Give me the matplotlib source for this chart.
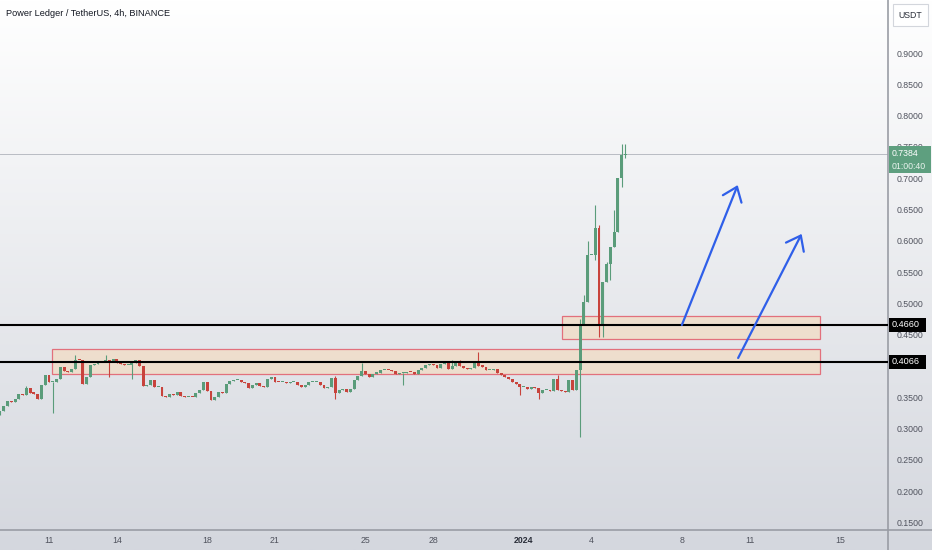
import numpy as np
import matplotlib
matplotlib.use("Agg")
import matplotlib.pyplot as plt
from matplotlib.patches import Rectangle, FancyArrowPatch
from matplotlib.colors import LinearSegmentedColormap
from matplotlib.lines import Line2D
import matplotlib.transforms as mtransforms

# ---------------- data ----------------
TITLE = "Power Ledger / TetherUS, 4h, BINANCE"
first_open = 0.322
closes = [
    0.328, 0.336, 0.344, 0.343, 0.347, 0.355, 0.354, 0.365, 0.357, 0.356,
    0.347, 0.370, 0.386, 0.374, 0.375, 0.379, 0.398, 0.392, 0.390, 0.396,
    0.410, 0.409, 0.371, 0.382, 0.402, 0.403, 0.406, 0.406, 0.410, 0.407,
    0.411, 0.405, 0.403, 0.401, 0.402, 0.404, 0.409, 0.400, 0.368, 0.370,
    0.378, 0.366, 0.367, 0.352, 0.351, 0.355, 0.354, 0.358, 0.352, 0.350,
    0.351, 0.350, 0.357, 0.362, 0.375, 0.360, 0.346, 0.350, 0.358, 0.357,
    0.372, 0.376, 0.377, 0.378, 0.374, 0.373, 0.365, 0.369, 0.373, 0.368,
    0.367, 0.380, 0.382, 0.375, 0.374, 0.375, 0.373, 0.374, 0.375, 0.370,
    0.366, 0.370, 0.374, 0.374, 0.375, 0.370, 0.365, 0.367, 0.381, 0.357,
    0.362, 0.364, 0.358, 0.364, 0.378, 0.384, 0.392, 0.388, 0.383, 0.388,
    0.389, 0.393, 0.394, 0.393, 0.392, 0.387, 0.389, 0.389, 0.391, 0.390,
    0.388, 0.394, 0.397, 0.401, 0.403, 0.402, 0.397, 0.403, 0.405, 0.395,
    0.400, 0.405, 0.400, 0.397, 0.395, 0.397, 0.406, 0.400, 0.399, 0.393,
    0.394, 0.396, 0.389, 0.386, 0.383, 0.380, 0.375, 0.372, 0.366, 0.366,
    0.364, 0.366, 0.365, 0.357, 0.361, 0.362, 0.360, 0.380, 0.362, 0.360,
    0.358, 0.378, 0.362, 0.393, 0.465, 0.502, 0.577, 0.578, 0.620, 0.466,
    0.534, 0.563, 0.590, 0.614, 0.700, 0.737, 0.7384,
]
wick_high = {7: 0.368, 20: 0.418, 28: 0.418, 89: 0.384, 96: 0.405, 120: 0.410,
             122: 0.410, 127: 0.422, 148: 0.385, 154: 0.475, 155: 0.513,
             156: 0.600, 158: 0.657, 159: 0.625, 161: 0.566, 163: 0.650,
             165: 0.755, 166: 0.755}
wick_low = {14: 0.325, 29: 0.382, 35: 0.380, 89: 0.348, 107: 0.370, 138: 0.353,
            143: 0.347, 154: 0.287, 158: 0.570, 159: 0.446, 160: 0.446,
            162: 0.537, 165: 0.686, 166: 0.732}
start_day = -2.1667          # Dec 8 20:00, days relative to Dec 11 00:00
candle_days = 1.0 / 6.0      # 4h candles

time_tick_days = [0, 3, 7, 10, 14, 17, 21, 24, 28, 31, 35]
time_tick_labels = ["11", "14", "18", "21", "25", "28", "2024", "4", "8", "11", "15"]
price_ticks = [0.15, 0.20, 0.25, 0.30, 0.35, 0.40, 0.45, 0.50, 0.55, 0.60,
               0.65, 0.70, 0.75, 0.80, 0.85, 0.90]
levels = [0.4660, 0.4066]
last_price = 0.7384
countdown = "01:00:40"
zones = [(22.7, 34.1, 0.443, 0.480), (0.13, 34.1, 0.387, 0.427)]
arrows = [((28.0, 0.4655), (30.47, 0.689)), ((30.49, 0.4128), (33.3, 0.611))]

# ---------------- style ----------------
plt.rcParams["font.family"] = ["Liberation Sans", "DejaVu Sans"]
GREEN = "#5a9c7a"
RED = "#c8433c"
TXT = "#50535e"
AXIS = "#9a9da5"
FS = 6.3

W, H = 932, 550
fig = plt.figure(figsize=(W / 100, H / 100), dpi=100)

# background gradient
bg = fig.add_axes([0, 0, 1, 1], zorder=-5)
cmap = LinearSegmentedColormap.from_list("bg", ["#d4d7de", "#ffffff"])
grad = np.linspace(0, 1, 256).reshape(-1, 1)
bg.imshow(grad, aspect="auto", cmap=cmap, origin="lower", extent=[0, 1, 0, 1])
bg.axis("off")

ax = fig.add_axes([0, 20 / H, 888 / W, 530 / H])
ax.set_facecolor("none")
ax.set_xlim(-2.168, 37.12)
ax.set_ylim(0.138, 0.9847)
for s in ["top", "left"]:
    ax.spines[s].set_visible(False)
for s in ["right", "bottom"]:
    ax.spines[s].set_color(AXIS)
    ax.spines[s].set_linewidth(1.2)

# extend axis lines through the scale areas
fig.add_artist(Line2D([888 / W, 888 / W], [0, 20 / H], transform=fig.transFigure,
                      color=AXIS, lw=1.2))
fig.add_artist(Line2D([888 / W, 1], [20 / H, 20 / H], transform=fig.transFigure,
                      color=AXIS, lw=1.2))

ax.yaxis.tick_right()
ax.set_yticks(price_ticks)
ax.set_yticklabels([f"{p:.4f}" for p in price_ticks])
ax.tick_params(axis="y", length=0, pad=6, labelsize=FS, labelcolor=TXT)
ax.set_xticks(time_tick_days)
ax.set_xticklabels(time_tick_labels)
ax.tick_params(axis="x", length=0, pad=4.5, labelsize=FS, labelcolor=TXT)
for lab in ax.get_xticklabels():
    if lab.get_text() == "2024":
        lab.set_fontweight("bold")
        lab.set_color("#2a2e39")

# zones
for x0, x1, y0, y1 in zones:
    ax.add_patch(Rectangle((x0, y0), x1 - x0, y1 - y0, facecolor="#f2dcc4",
                           alpha=0.75, edgecolor="none", zorder=2))
    ax.add_patch(Rectangle((x0, y0), x1 - x0, y1 - y0, facecolor="none",
                           edgecolor="#e2707c", lw=0.9, zorder=3))

# candles
n = len(closes)
c = np.array(closes)
o = np.array([first_open] + closes[:-1])
x = start_day + np.arange(n) * candle_days
hi = np.maximum(o, c)
lo = np.minimum(o, c)
for k, v in wick_high.items():
    hi[k] = v
for k, v in wick_low.items():
    lo[k] = v
cols = [GREEN if cc >= oo else RED for oo, cc in zip(o, c)]
ax.vlines(x, lo, hi, colors=cols, lw=0.8, zorder=4)
body_bottom = np.minimum(o, c)
body_h = np.maximum(np.abs(c - o), 0.0018)
ax.bar(x, body_h, bottom=body_bottom, width=0.13, color=cols, linewidth=0, zorder=5)

# level lines
for lv in levels:
    ax.axhline(lv, color="black", lw=1.5, zorder=6)
ax.axhline(last_price, color="#b9bcc3", lw=0.7, zorder=1)

# arrows
for (pa, pb) in arrows:
    ax.add_patch(FancyArrowPatch(pa, pb, arrowstyle="->,head_length=9.4,head_width=7.2",
                                 mutation_scale=1, color="#2f5fe9", lw=1.6,
                                 shrinkA=0, shrinkB=0, zorder=7))

# price axis labels
tr = mtransforms.blended_transform_factory(fig.transFigure, ax.transData)
for lv in levels:
    ax.add_patch(Rectangle((889 / W, lv - 0.0112), 37 / W, 0.0224, transform=tr,
                           facecolor="black", edgecolor="none", clip_on=False, zorder=10))
    ax.text(892 / W, lv, f"{lv:.4f}", transform=tr, color="white", fontsize=FS + 0.3,
            va="center", ha="left", clip_on=False, zorder=11)

ax.add_patch(Rectangle((889 / W, 0.7083), 42 / W, 0.0431, transform=tr,
                       facecolor="#5e9f7f", edgecolor="none", clip_on=False, zorder=10))
ax.text(892 / W, 0.7387, f"{last_price:.4f}", transform=tr, color="white",
        fontsize=FS, va="center", ha="left", clip_on=False, zorder=11)
ax.text(892 / W, 0.7195, countdown, transform=tr, color="#e8f3ed",
        fontsize=FS, va="center", ha="left", clip_on=False, zorder=11)

# USDT box
fig.patches.append(Rectangle((893 / W, 1 - 26 / H), 35 / W, 22 / H, transform=fig.transFigure,
                             facecolor="white", edgecolor="#d3d6dc", lw=0.8, zorder=10))
fig.text(910.5 / W, 1 - 15 / H, "USDT", fontsize=FS, color="#2a2e39",
         ha="center", va="center", zorder=11)

# title
fig.text(6 / W, 1 - 14 / H, TITLE, fontsize=6.6, color="#131722", ha="left", va="center")

fig.savefig("out.png", dpi=100)
